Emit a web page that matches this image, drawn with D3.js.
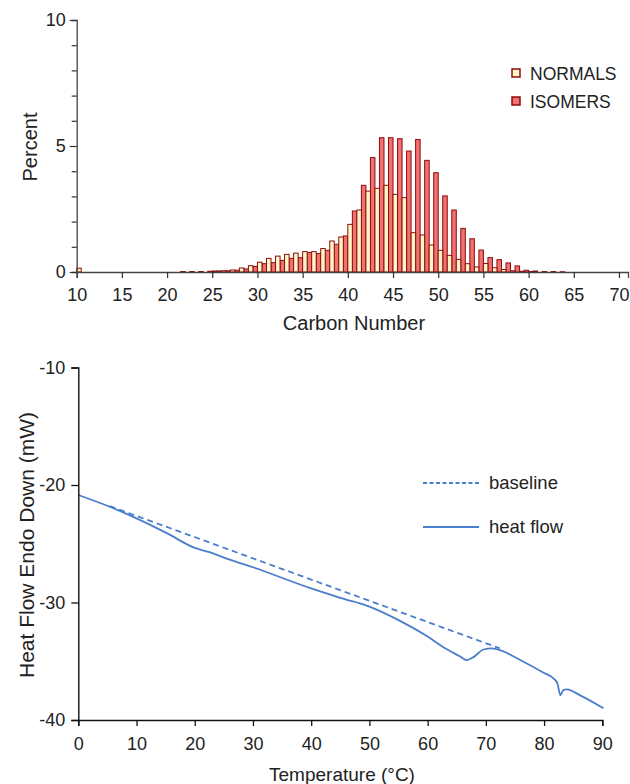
<!DOCTYPE html>
<html>
<head>
<meta charset="utf-8">
<script src="https://cdn.jsdelivr.net/npm/d3@7"></script>
<style>
  body { margin: 0; background: #fff; }
  text { font-family: "Liberation Sans", Arial, sans-serif; fill: #222; }
</style>
</head>
<body>
<div id="chart"></div>
<script>
// carbon number distribution (percent)
var carbonNumbers = [10, 22, 23, 24, 25, 26, 27, 28, 29, 30, 31, 32, 33, 34, 35, 36, 37, 38, 39, 40,
  41, 42, 43, 44, 45, 46, 47, 48, 49, 50, 51, 52, 53, 54, 55, 56, 57, 58, 59, 60,
  61, 62, 63, 64];
var normals = [0.15, 0, 0, 0, 0.04, 0.05, 0.08, 0.16, 0.25, 0.39, 0.54, 0.63, 0.70, 0.75, 0.81, 0.81, 0.93, 1.23, 1.39, 1.89,
  2.46, 3.21, 3.32, 3.44, 3.08, 2.95, 1.56, 1.47, 1.07, 0.86, 0.66, 0.50, 0.33, 0.20, 0.34, 0.17, 0.10, 0.05, 0.03, 0.02,
  0, 0, 0, 0];
var isomers = [0, 0.02, 0.02, 0.02, 0.03, 0.04, 0.05, 0.07, 0.12, 0.22, 0.33, 0.37, 0.46, 0.54, 0.57, 0.77, 0.73, 0.86, 1.10, 1.43,
  2.42, 3.44, 4.54, 5.33, 5.33, 5.29, 4.80, 5.26, 4.43, 3.94, 3.02, 2.46, 1.73, 1.32, 0.87, 0.57, 0.49, 0.36, 0.24, 0.07,
  0.04, 0.02, 0.02, 0.01];
var carbonTicks = [10, 15, 20, 25, 30, 35, 40, 45, 50, 55, 60, 65, 70];
var percentTicks = [0, 5, 10];

// DSC trace
var hfTemp = [0, 5.4, 10, 15.2, 20, 22.4, 26, 30, 40, 45, 50, 55, 60, 63, 65.6, 66.7, 67.8, 69.6, 71, 72.7,
  75.9, 80, 81.6, 82.3, 82.8, 83.3, 83.9, 86.2, 90.2];
var hfValue = [-20.85, -21.85, -22.84, -24.1, -25.35, -25.7, -26.35, -27.0, -28.8, -29.6, -30.35, -31.5, -32.9, -33.9, -34.6, -34.9, -34.67, -34.0, -33.9, -34.1,
  -34.9, -36.0, -36.45, -36.9, -37.9, -37.45, -37.4, -37.9, -39.0];
var baseTemp = [5.4, 72.4];
var baseValue = [-21.8, -33.9];
var tempTicks = [0, 10, 20, 30, 40, 50, 60, 70, 80, 90];
var hfTicks = [-40, -30, -20, -10];

var W = 630, H = 784;
var svg = d3.select("#chart").append("svg").attr("width", W).attr("height", H);

// ---------- top: bar chart ----------
var x1 = d3.scaleLinear().domain([10, 71]).range([76.7, 628]);
var y1 = d3.scaleLinear().domain([0, 10]).range([272, 20]);
var topG = svg.append("g");

var rows = carbonNumbers.map(function (c, i) { return { c: c, n: normals[i], iso: isomers[i] }; });

topG.selectAll("rect.iso").data(rows.filter(function (d) { return d.iso > 0; }))
  .enter().append("rect").attr("class", "iso")
  .attr("x", function (d) { return x1(d.c - 0.5); })
  .attr("width", function (d) { return x1(d.c) - x1(d.c - 0.5); })
  .attr("y", function (d) { return y1(d.iso); })
  .attr("height", function (d) { return y1(0) - y1(d.iso); })
  .attr("fill", "#f07171").attr("stroke", "#8e0b0b").attr("stroke-width", 1);

topG.selectAll("rect.nor").data(rows.filter(function (d) { return d.n > 0; }))
  .enter().append("rect").attr("class", "nor")
  .attr("x", function (d) { return x1(d.c); })
  .attr("width", function (d) { return x1(d.c + 0.5) - x1(d.c); })
  .attr("y", function (d) { return y1(d.n); })
  .attr("height", function (d) { return y1(0) - y1(d.n); })
  .attr("fill", "#fff6c6").attr("stroke", "#8e0b0b").attr("stroke-width", 1);

var xa1 = topG.append("g").attr("transform", "translate(0,272)")
  .call(d3.axisBottom(x1).tickValues(carbonTicks).tickSize(6).tickPadding(10));
var ya1 = topG.append("g").attr("transform", "translate(76.7,0)")
  .call(d3.axisLeft(y1).tickValues(d3.range(0, 11)).tickSize(5).tickPadding(6)
    .tickFormat(function (d) { return percentTicks.indexOf(d) >= 0 ? String(d) : ""; }));
ya1.selectAll(".tick line").attr("x2", function (d) { return percentTicks.indexOf(d) >= 0 ? -7 : -5; });

[xa1, ya1].forEach(function (a) {
  a.select(".domain").attr("stroke", "#444").attr("stroke-width", 1.3);
  a.selectAll(".tick line").attr("stroke", "#333").attr("stroke-width", 1.2);
  a.selectAll("text").style("font-size", "18px").attr("fill", "#222");
});

topG.append("text").attr("x", 354).attr("y", 330).attr("text-anchor", "middle")
  .style("font-size", "20px").text("Carbon Number");
topG.append("text").attr("transform", "translate(37,147) rotate(-90)").attr("text-anchor", "middle")
  .style("font-size", "20px").text("Percent");

var leg1 = [["NORMALS", "#fff6c6"], ["ISOMERS", "#f07171"]];
leg1.forEach(function (l, i) {
  topG.append("rect").attr("x", 512).attr("y", 69 + i * 28).attr("width", 8).attr("height", 8)
    .attr("fill", l[1]).attr("stroke", "#8e0b0b").attr("stroke-width", 1.5);
  topG.append("text").attr("x", 530).attr("y", 80 + i * 28).style("font-size", "17.5px").text(l[0]);
});

// ---------- bottom: DSC curve ----------
var x2 = d3.scaleLinear().domain([0, 90]).range([78.3, 602.3]);
var y2 = d3.scaleLinear().domain([-40, -10]).range([720, 367.5]);
var bot = svg.append("g");
var blue = "#4a7ecb";

var line = d3.line().x(function (d) { return x2(d[0]); }).y(function (d) { return y2(d[1]); })
  .curve(d3.curveMonotoneX);

bot.append("path").datum(baseTemp.map(function (t, i) { return [t, baseValue[i]]; }))
  .attr("d", line).attr("fill", "none").attr("stroke", blue).attr("stroke-width", 1.8)
  .attr("stroke-dasharray", "6,4");
bot.append("path").datum(hfTemp.map(function (t, i) { return [t, hfValue[i]]; }))
  .attr("d", line).attr("fill", "none").attr("stroke", blue).attr("stroke-width", 1.8);

var xa2 = bot.append("g").attr("transform", "translate(0,720)")
  .call(d3.axisBottom(x2).tickValues(tempTicks).tickSize(6).tickPadding(11)
    .tickFormat(function (d) { return String(d); }));
var ya2 = bot.append("g").attr("transform", "translate(78.3,0)")
  .call(d3.axisLeft(y2).tickValues(hfTicks).tickSize(7).tickPadding(6)
    .tickFormat(function (d) { return String(d); }));
[xa2, ya2].forEach(function (a) {
  a.select(".domain").attr("stroke", "#111").attr("stroke-width", 1.4);
  a.selectAll(".tick line").attr("stroke", "#111").attr("stroke-width", 1.3);
  a.selectAll("text").style("font-size", "18px").attr("fill", "#222");
});

bot.append("text").attr("x", 342).attr("y", 781).attr("text-anchor", "middle")
  .style("font-size", "19px").text("Temperature (°C)");
bot.append("text").attr("transform", "translate(34,545) rotate(-90)").attr("text-anchor", "middle")
  .style("font-size", "21px").text("Heat Flow Endo Down (mW)");

bot.append("line").attr("x1", 423).attr("x2", 479).attr("y1", 483).attr("y2", 483)
  .attr("stroke", blue).attr("stroke-width", 1.8).attr("stroke-dasharray", "4,2.5");
bot.append("text").attr("x", 489).attr("y", 489).style("font-size", "18.5px").text("baseline");
bot.append("line").attr("x1", 423).attr("x2", 479).attr("y1", 527).attr("y2", 527)
  .attr("stroke", blue).attr("stroke-width", 1.8);
bot.append("text").attr("x", 489).attr("y", 533).style("font-size", "18.5px").text("heat flow");
</script>
</body>
</html>
